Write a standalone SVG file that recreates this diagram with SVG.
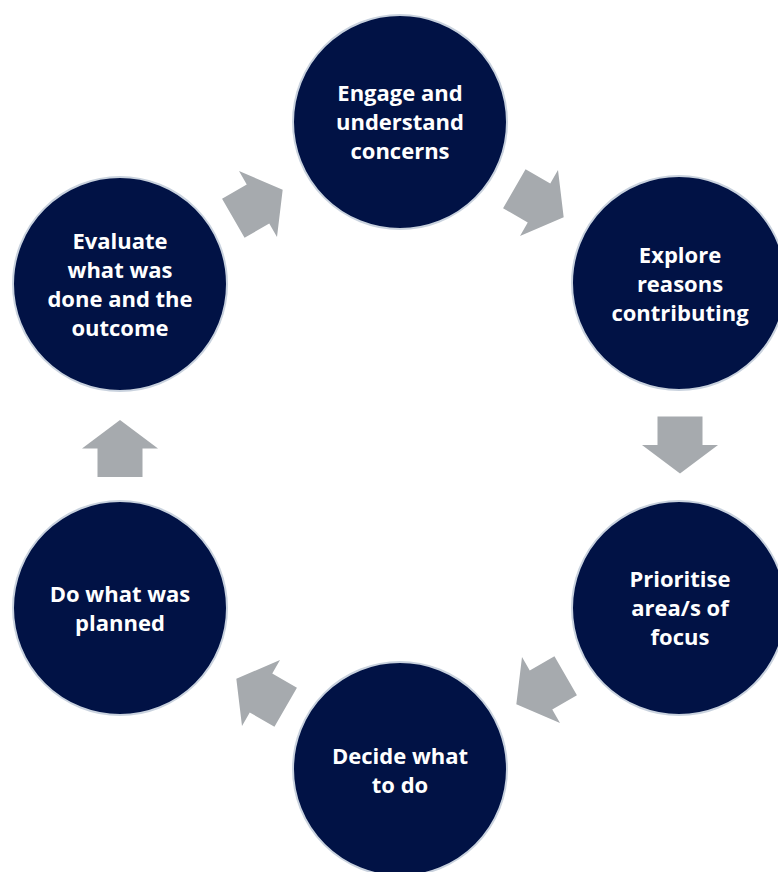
<svg xmlns="http://www.w3.org/2000/svg" width="778" height="872" viewBox="0 0 778 872">
<style>
.node{fill:#011245;stroke:#c9d2de;stroke-width:2}
.lbl{fill:#ffffff;font-family:"Open Sans","Liberation Sans",sans-serif;font-weight:bold;font-size:22px;text-anchor:middle}
.arr{fill:#a6aaae}
</style>
<defs>
<path id="arrow" d="M-28.5,-22.5 L0,-22.5 L0,-38 L28.5,0 L0,38 L0,22.5 L-28.5,22.5 Z"/>
</defs>
<rect width="778" height="872" fill="#ffffff"/>
<g id="connectors" class="arr">
<use href="#arrow" transform="translate(258,204) rotate(-30)"/>
<use href="#arrow" transform="translate(539,203) rotate(30)"/>
<use href="#arrow" transform="translate(680,445) rotate(90)"/>
<use href="#arrow" transform="translate(541,690) rotate(150)"/>
<use href="#arrow" transform="translate(261,693) rotate(210)"/>
<use href="#arrow" transform="translate(120,448.5) rotate(-90)"/>
</g>
<g id="engage">
<circle class="node" cx="400" cy="122" r="107"/>
<text class="lbl" x="400" y="101">Engage and</text>
<text class="lbl" x="400" y="130">understand</text>
<text class="lbl" x="400" y="159">concerns</text>
</g>
<g id="explore">
<circle class="node" cx="679" cy="283" r="107"/>
<text class="lbl" x="680" y="263">Explore</text>
<text class="lbl" x="680" y="292">reasons</text>
<text class="lbl" x="680" y="321">contributing</text>
</g>
<g id="prioritise">
<circle class="node" cx="679" cy="608" r="107"/>
<text class="lbl" x="680" y="587">Prioritise</text>
<text class="lbl" x="680" y="616">area/s of</text>
<text class="lbl" x="680" y="645">focus</text>
</g>
<g id="decide">
<circle class="node" cx="400" cy="769" r="107"/>
<text class="lbl" x="400" y="764">Decide what</text>
<text class="lbl" x="400" y="793">to do</text>
</g>
<g id="do">
<circle class="node" cx="120" cy="608" r="107"/>
<text class="lbl" x="120" y="602">Do what was</text>
<text class="lbl" x="120" y="631">planned</text>
</g>
<g id="evaluate">
<circle class="node" cx="120" cy="284" r="107"/>
<text class="lbl" x="120" y="249">Evaluate</text>
<text class="lbl" x="120" y="278">what was</text>
<text class="lbl" x="120" y="307">done and the</text>
<text class="lbl" x="120" y="336">outcome</text>
</g>
</svg>
